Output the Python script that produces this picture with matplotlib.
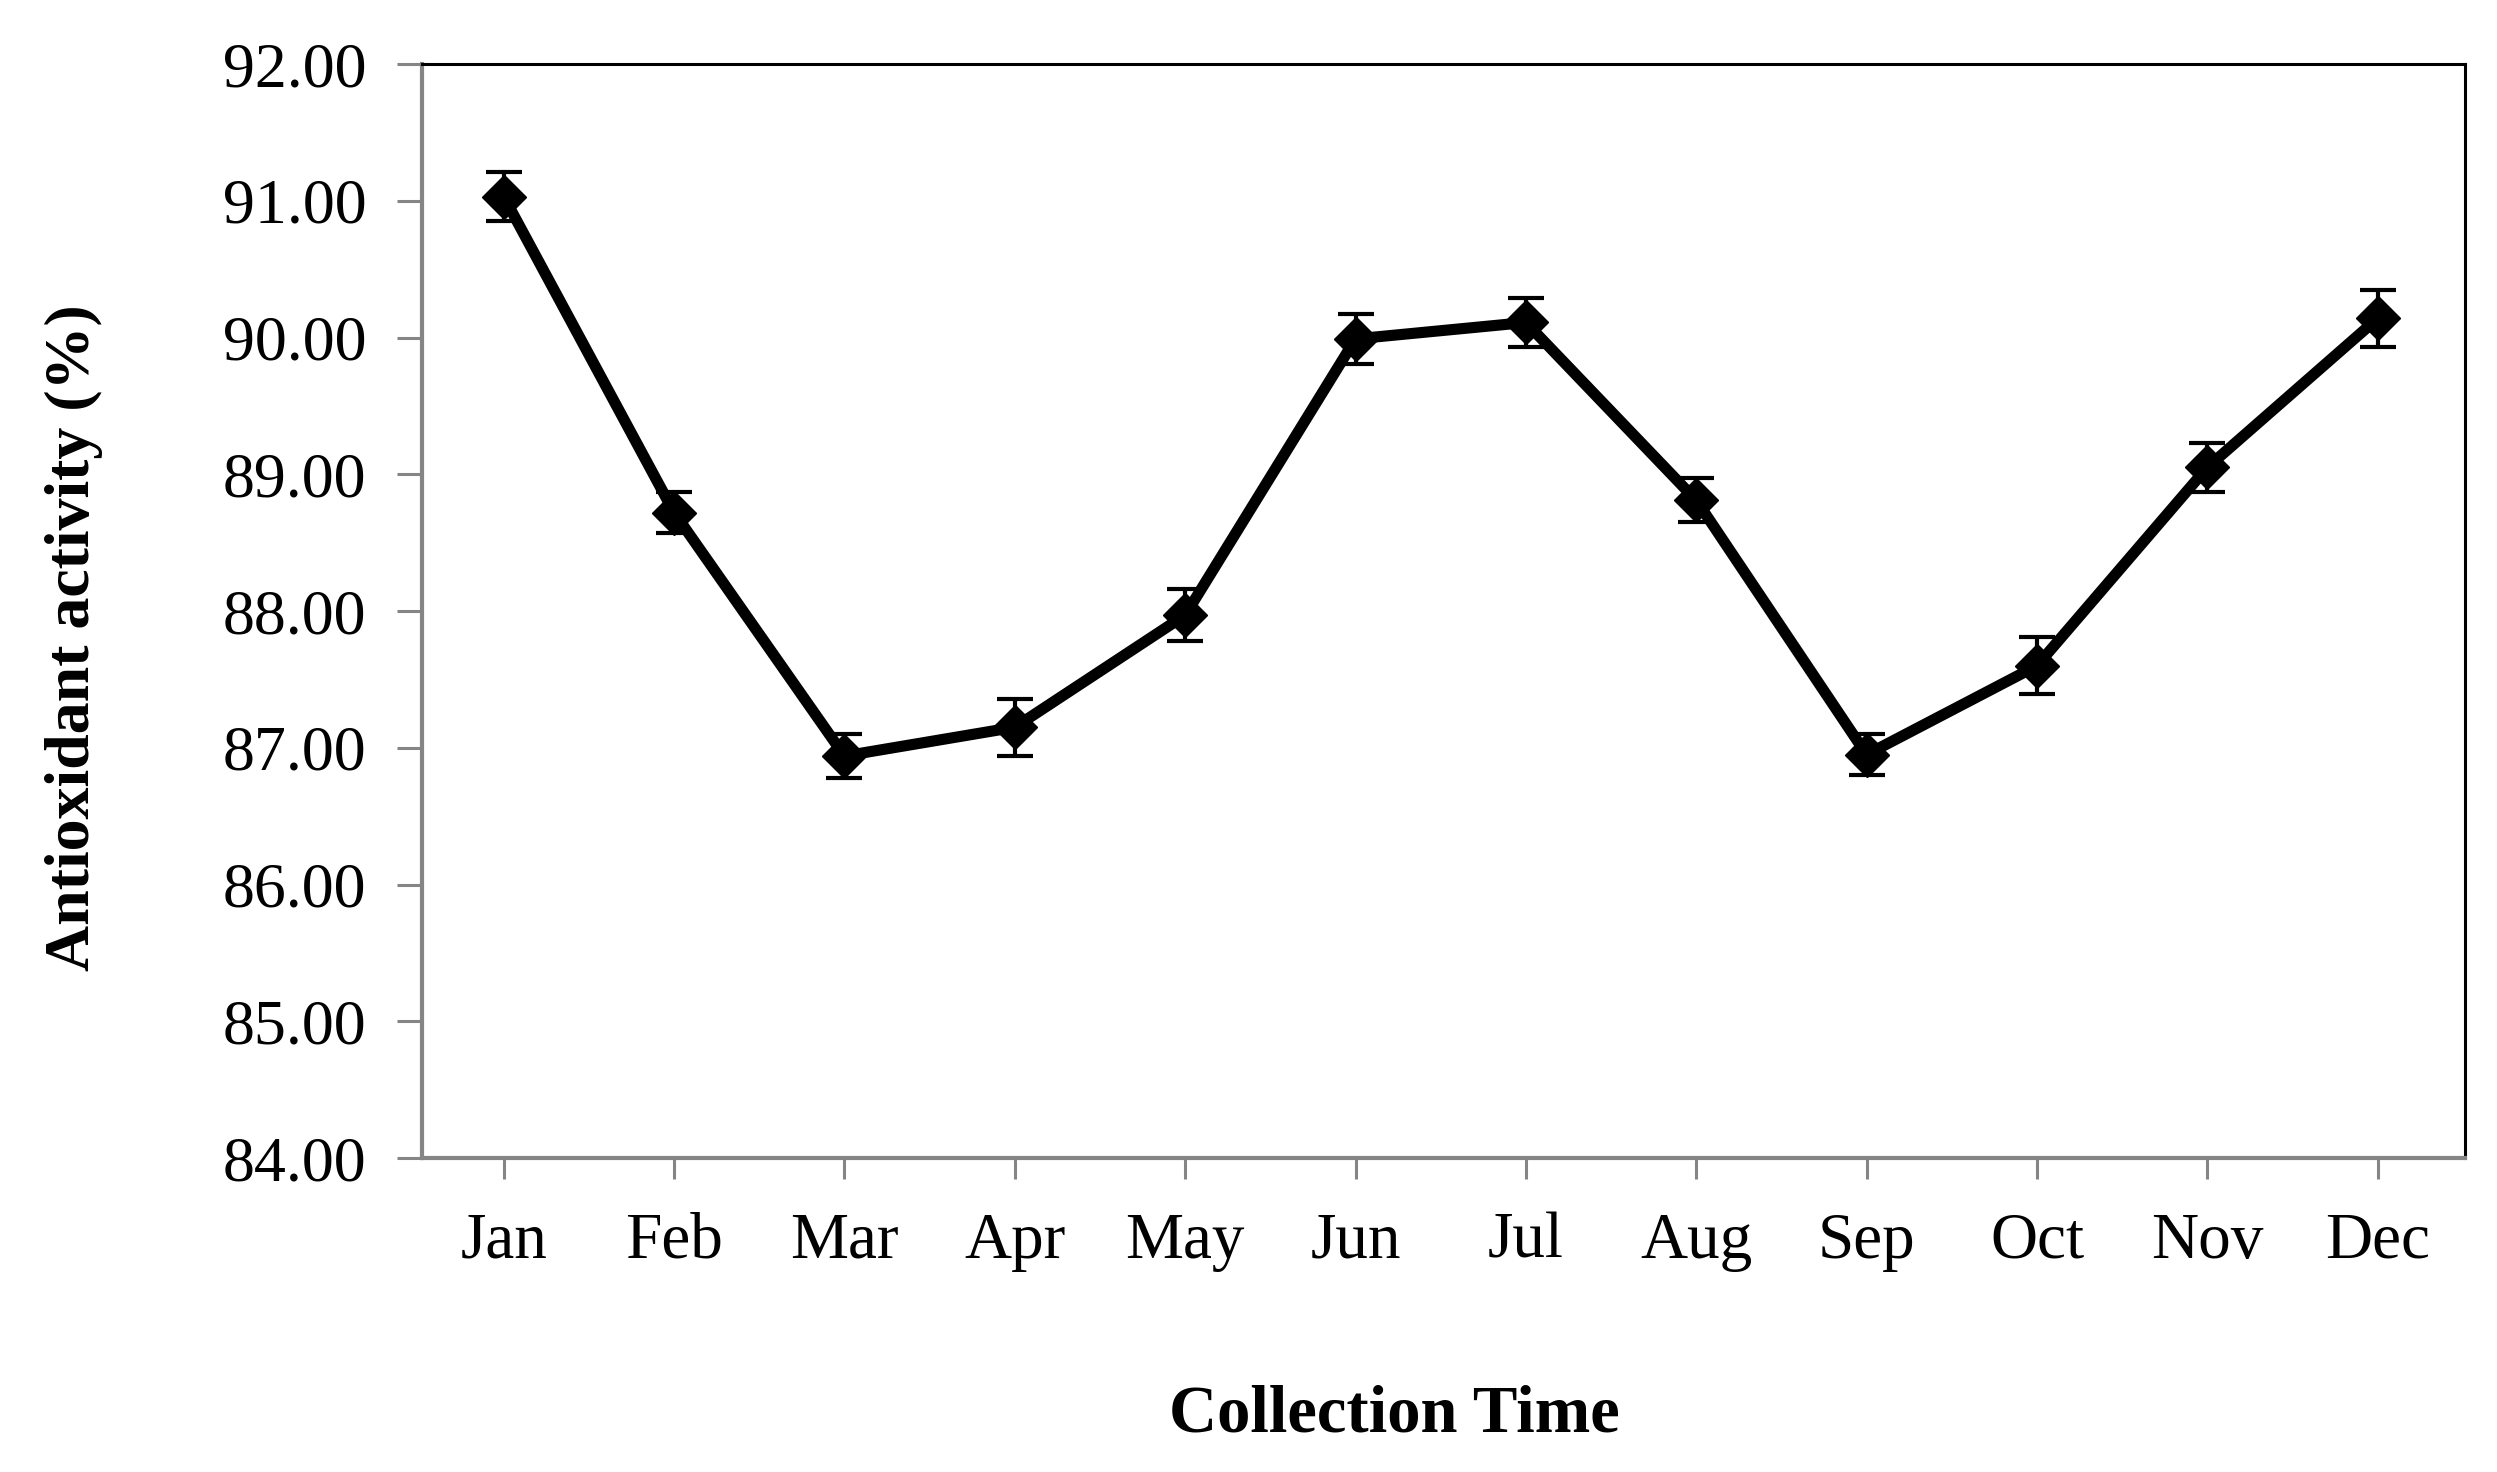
import matplotlib
matplotlib.use('Agg')
import matplotlib.pyplot as plt


months = ['Jan', 'Feb', 'Mar', 'Apr', 'May', 'Jun',
          'Jul', 'Aug', 'Sep', 'Oct', 'Nov', 'Dec']
activity = [91.03, 88.72, 86.94, 87.15, 87.97, 89.99,
            90.11, 88.81, 86.95, 87.60, 89.05, 90.14]
activity_err = [0.18, 0.15, 0.16, 0.21, 0.19, 0.18,
                0.18, 0.16, 0.15, 0.21, 0.18, 0.21]
y_ticks = [84, 85, 86, 87, 88, 89, 90, 91, 92]


def plot_activity():
    plt.rcParams['font.family'] = ['Liberation Serif', 'DejaVu Serif']

    fig = plt.figure(figsize=(24.97, 14.72), dpi=100)
    ax = fig.add_axes([0.169, 0.2133, 0.818, 0.7432])

    x = list(range(len(months)))
    ax.errorbar(x, activity, yerr=activity_err, color='black',
                linewidth=8, marker='D', markersize=22,
                ecolor='black', elinewidth=3, capsize=13, capthick=3)

    ax.set_xlim(-0.48, 11.51)
    ax.set_ylim(84, 92)
    ax.set_yticks(y_ticks)
    ax.set_yticklabels(['%.2f' % v for v in y_ticks])
    ax.set_xticks(x)
    ax.set_xticklabels(months)

    # spines: grey left/bottom, black top/right like the original
    grey = '#858585'
    ax.spines['left'].set_color(grey)
    ax.spines['bottom'].set_color(grey)
    ax.spines['left'].set_linewidth(3)
    ax.spines['bottom'].set_linewidth(3)
    ax.spines['top'].set_linewidth(2.2)
    ax.spines['right'].set_linewidth(2.2)

    ax.tick_params(axis='y', direction='out', length=18, width=2.2,
                   color=grey, labelsize=46, pad=22)
    ax.tick_params(axis='x', direction='out', length=15, width=2.2,
                   color=grey, labelsize=47, pad=24)

    ax.set_ylabel('Antioxidant activity (%)', fontsize=46, fontweight='bold')
    ax.set_xlabel('Collection Time', fontsize=48, fontweight='bold')
    ax.yaxis.set_label_coords(-0.156, 0.476)
    ax.xaxis.set_label_coords(0.476, -0.207)

    fig.savefig('out.png', dpi=100, facecolor='white')


def main():
    plot_activity()


if __name__ == '__main__':
    main()
